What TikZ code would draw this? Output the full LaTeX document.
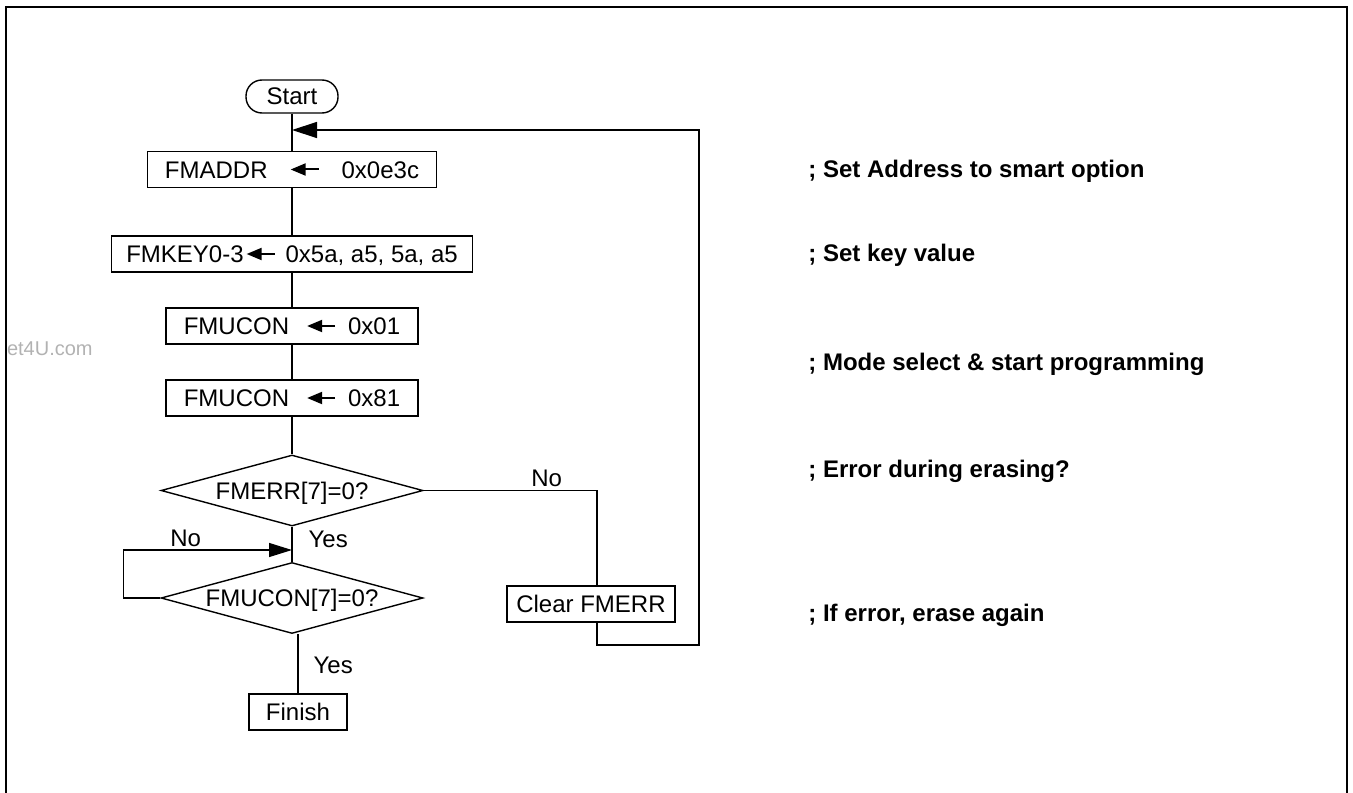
\documentclass[tikz,border=0pt]{standalone}
\usepackage{fontspec}
\setmainfont{Liberation Sans}
\usepackage{tikz}
\usetikzlibrary{arrows.meta,shapes.geometric,calc}
\newcommand{\setarr}{\tikz[baseline=-4.3pt]\draw[line width=1pt,-{Triangle[length=7.5pt,width=6pt]}] (14pt,0pt) -- (0pt,0pt);}
\tikzset{
  term/.style={draw, rectangle, rounded corners=8pt, line width=0.7pt, minimum width=46pt, minimum height=16.5pt, inner sep=0pt},
  proc/.style={draw, line width=0.7pt, minimum width=#1, minimum height=18pt, inner sep=0pt, text height=8.6pt, text depth=0pt},
  proc/.default=50pt,
  test/.style={draw, diamond, line width=0.7pt, minimum width=131pt, minimum height=35.5pt, inner sep=0pt, text height=8.6pt, text depth=0pt},
  flow/.style={line width=0.65pt},
  back/.style={flow, -{Triangle[length=12.5pt,width=8pt]}},
  loopb/.style={flow, -{Triangle[length=11.5pt,width=7pt]}},
  lab/.style={inner sep=0pt},
  note/.style={font=\fontsize{12}{14.4}\selectfont\bfseries, anchor=base west, inner sep=0pt},
}
\begin{document}
\begin{tikzpicture}[x=0.5pt,y=-0.5pt,font=\fontsize{12}{14.4}\selectfont]
  \useasboundingbox (0,0) rectangle (1353,792);
  \draw[line width=1pt] (6,800) -- (6,7) -- (1347,7) -- (1347,800);
  \node[text=black!30, font=\fontsize{10}{12}\selectfont, anchor=east, inner sep=0pt] (wm) at (93,349) {et4U.com};
  \node[term] (start) at (292,96.5) {Start};
  \node[proc=144.5pt] (addr) at (292,169.5) {FMADDR\hspace{11pt}\setarr\hspace{11pt}0x0e3c};
  \node[proc=180.5pt] (key) at (292,254) {FMKEY0-3\hspace{1pt}\setarr\hspace{5pt}0x5a, a5, 5a, a5};
  \node[proc=126pt] (con1) at (292,326) {FMUCON\hspace{8.5pt}\setarr\hspace{6pt}0x01};
  \node[proc=126pt] (con2) at (292,398) {FMUCON\hspace{8.5pt}\setarr\hspace{6pt}0x81};
  \node[test] (err) at (292,490.5) {\makebox[0pt]{FMERR[7]=0?}};
  \node[test] (busy) at (292,598) {\makebox[0pt]{FMUCON[7]=0?}};
  \node[proc=49pt] (fin) at (298,712) {Finish};
  \node[proc=84pt] (clr) at (591,604) {Clear FMERR};
  \node[note] (c1) at (808,177.5) {; Set Address to smart option};
  \node[note] (c2) at (808,261.5) {; Set key value};
  \node[note] (c3) at (808,370.5) {; Mode select \& start programming};
  \node[note] (c4) at (808,477.5) {; Error during erasing?};
  \node[note] (c5) at (808,621.5) {; If error, erase again};
  \coordinate (clrt) at ([xshift=3pt]clr.north);
  \coordinate (clrb) at ([xshift=3pt]clr.south);
  \coordinate (rb) at (699,645);
  \coordinate (rt) at (699,130);
  \coordinate (jn) at (292,550);
  \draw[flow] (start) -- (addr);
  \draw[flow] (addr) -- (key);
  \draw[flow] (key) -- (con1);
  \draw[flow] (con1) -- (con2);
  \draw[flow] (con2) -- (err);
  \draw[flow] (err) -- node[lab, pos=.35, right=8pt]{Yes} (busy);
  \draw[flow] (busy.south -| fin) -- node[lab, pos=.52, right=7.5pt]{Yes} (fin);
  \draw[flow] (err.east) -- node[lab, pos=.71, above=1.5pt]{No} (err.east -| clrt) -- (clrt);
  \draw[back] (clrb) -- (clrb |- rb) -- (rb) -- (rt) -- (rt -| start);
  \draw[loopb] (busy.west) -- ++(-37,0) |- node[lab, pos=.685, above=1.5pt]{No} (jn);
\end{tikzpicture}
\end{document}
